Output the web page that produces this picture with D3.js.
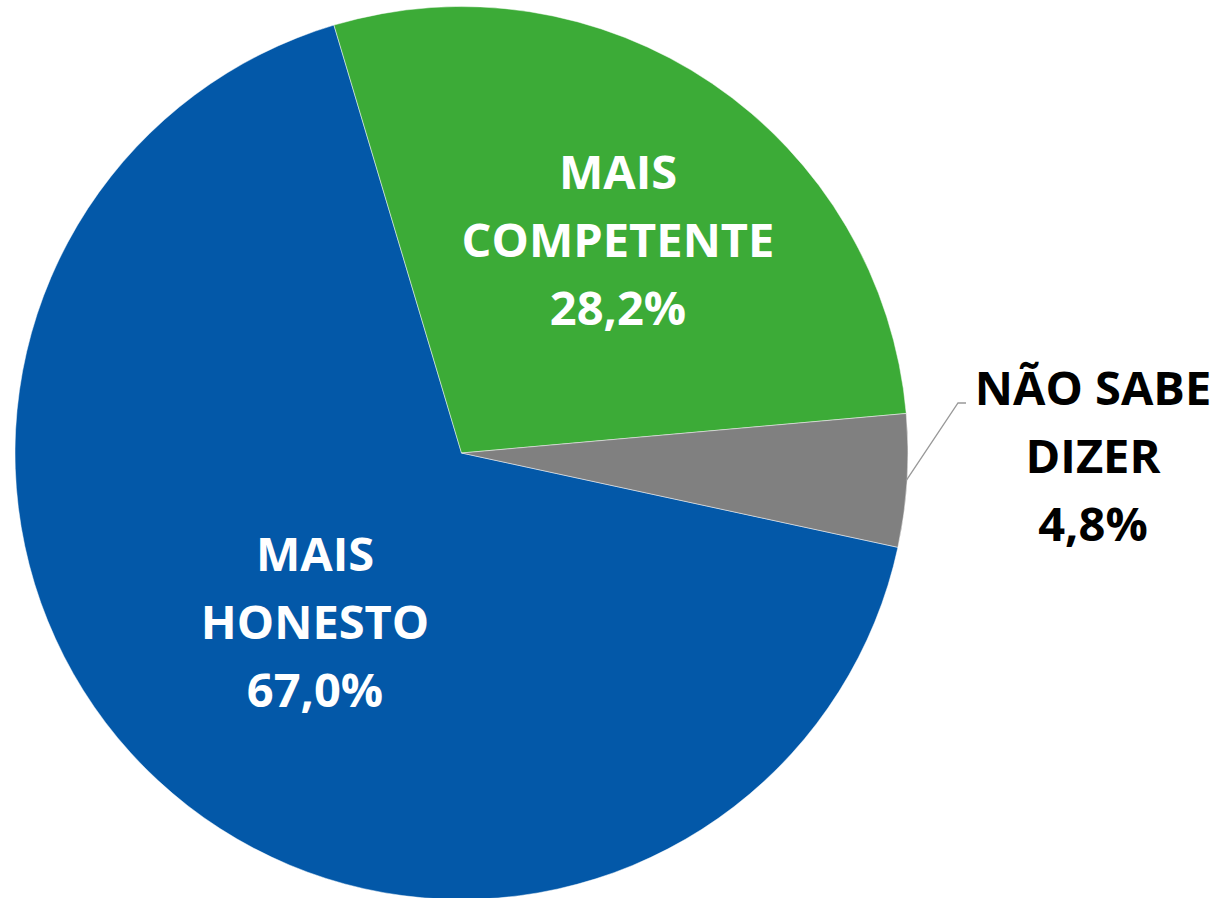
<!DOCTYPE html>
<html><head><meta charset="utf-8">
<script src="https://cdn.jsdelivr.net/npm/d3@7"></script>
<style>html,body{margin:0;padding:0;background:#fff;}svg{display:block;}</style>
</head><body>
<svg id="chart" width="1224" height="898"></svg>
<script>
const categories = ["MAIS HONESTO", "MAIS COMPETENTE", "NÃO SABE DIZER"];
const labelLines = [["MAIS", "HONESTO"], ["MAIS", "COMPETENTE"], ["NÃO SABE", "DIZER"]];
const values = [67.0, 28.2, 4.8];
const colors = ["#0358A8", "#3CAB37", "#808080"];

const W = 1224, H = 898;
const cx = 461.5, cy = 453, R = 446.5;
const startDeg = 102.2;

const svg = d3.select("#chart");
const g = svg.append("g").attr("transform", `translate(${cx},${cy})`);

const pie = d3.pie().sort(null).value(d => d)
  .startAngle(startDeg * Math.PI / 180)
  .endAngle((startDeg + 360) * Math.PI / 180);
const arcs = pie(values);
const arc = d3.arc().innerRadius(0).outerRadius(R);

g.selectAll("path.slice").data(arcs).join("path")
  .attr("class", "slice")
  .attr("d", arc)
  .attr("fill", (d, i) => colors[i])
  .attr("stroke", "#ffffff")
  .attr("stroke-width", 0.8)
  .attr("stroke-opacity", 0.6);

const fmt = v => d3.format(".1f")(v).replace(".", ",") + "%";

// label placement (layout)
const labelPos = [
  {x: 315 - cx, y: 571 - cy, color: "#ffffff"},
  {x: 618 - cx, y: 189 - cy, color: "#ffffff"},
  {x: 1093 - cx, y: 405 - cy, color: "#000000"}
];
const lineH = 68;
const fontSize = 47;

arcs.forEach((a, i) => {
  const p = labelPos[i];
  const t = g.append("text")
    .attr("text-anchor", "middle")
    .attr("font-family", "'Open Sans', Lato, sans-serif")
    .attr("font-weight", "bold")
    .attr("font-size", fontSize)
    .attr("fill", p.color);
  const lines = labelLines[i].concat([fmt(values[i])]);
  lines.forEach((ln, k) => {
    t.append("tspan").attr("x", p.x).attr("y", p.y + k * lineH).text(ln);
  });
});

// leader line for small slice
const small = arcs[2];
const midA = (small.startAngle + small.endAngle) / 2;
const px = Math.sin(midA) * (R - 1), py = -Math.cos(midA) * (R - 1);
g.append("path")
  .attr("d", `M${px},${py} L${958 - cx},${403 - cy} L${966 - cx},${403 - cy}`)
  .attr("fill", "none")
  .attr("stroke", "#999999")
  .attr("stroke-width", 1.3);
</script>
</body></html>
